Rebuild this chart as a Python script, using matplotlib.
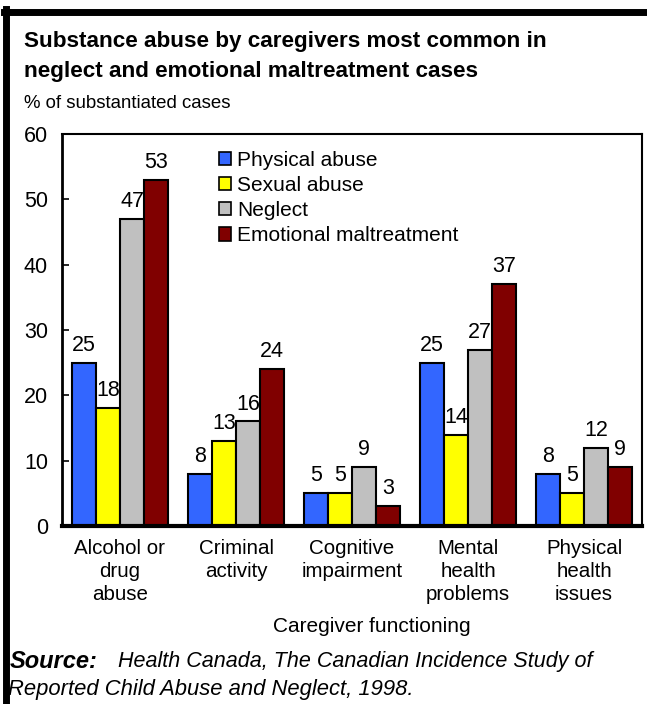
import matplotlib
matplotlib.use("Agg")
import matplotlib.pyplot as plt
from matplotlib.lines import Line2D
from matplotlib.patches import Patch
import numpy as np

plt.rcParams['font.family'] = ['Liberation Sans', 'DejaVu Sans']

categories = ["Alcohol or\ndrug\nabuse", "Criminal\nactivity", "Cognitive\nimpairment",
              "Mental\nhealth\nproblems", "Physical\nhealth\nissues"]
series_names = ["Physical abuse", "Sexual abuse", "Neglect", "Emotional maltreatment"]
physical = [25, 8, 5, 25, 8]
sexual = [18, 13, 5, 14, 5]
neglect = [47, 16, 9, 27, 12]
emotional = [53, 24, 3, 37, 9]
colors = ["#3366FF", "#FFFF00", "#C0C0C0", "#800000"]

fig = plt.figure(figsize=(6.47, 7.04), dpi=100)
ax = fig.add_axes([62/647, 1-526/704, 580/647, 392/704])

x = np.arange(len(categories))
w = 0.207
for i, vals in enumerate([physical, sexual, neglect, emotional]):
    pos = x + (i - 1.5) * w
    ax.bar(pos, vals, width=w, color=colors[i], edgecolor="black", linewidth=1.5, zorder=2)
    for p, v in zip(pos, vals):
        ax.annotate(str(v), (p, v), xytext=(0, 5), textcoords="offset points",
                    ha="center", va="bottom", fontsize=15.5)

ax.set_xlim(-0.5, 4.5)
ax.set_ylim(0, 60)
ax.set_yticks(range(0, 61, 10))
ax.tick_params(axis="y", direction="in", length=5, width=1.2, labelsize=15.5, pad=10)
ax.tick_params(axis="x", length=0, labelsize=14.8, pad=9)
ax.set_xticks(x)
ax.set_xticklabels(categories, linespacing=1.28)
for lbl in ax.get_xticklabels():
    lbl.set_multialignment("center")
ax.spines["bottom"].set_linewidth(3)
ax.spines["left"].set_linewidth(2)
ax.spines["top"].set_linewidth(1.5)
ax.spines["right"].set_linewidth(1.5)

handles = [Patch(facecolor=c, edgecolor="black", linewidth=1.2) for c in colors]
ax.legend(handles, series_names, loc="upper left", bbox_to_anchor=(0.245, 0.995),
          frameon=False, fontsize=15, handlelength=0.6, handleheight=0.6,
          handletextpad=0.3, labelspacing=0.3, borderaxespad=0.3)

fig.text(372/647, 1-627/704, "Caregiver functioning", ha="center", va="center", fontsize=15)

fig.text(24/647, 1-42/704, "Substance abuse by caregivers most common in", fontsize=16.2,
         fontweight="bold", va="center")
fig.text(24/647, 1-72/704, "neglect and emotional maltreatment cases", fontsize=16.2,
         fontweight="bold", va="center")
fig.text(24/647, 1-103/704, "% of substantiated cases", fontsize=13.4, va="center")

fig.text(10/647, 1-661/704, "Source:", fontsize=17, fontweight="bold", style="italic", va="center")
fig.text(118/647, 1-661/704, "Health Canada, The Canadian Incidence Study of", fontsize=15.5,
         style="italic", va="center")
fig.text(8/647, 1-690/704, "Reported Child Abuse and Neglect, 1998.", fontsize=15.8,
         style="italic", va="center")

# frame
fig.add_artist(Line2D([6/647, 6/647], [0, 1-9/704], color="black", lw=5, transform=fig.transFigure))
fig.add_artist(Line2D([4/647, 1], [1-11.5/704, 1-11.5/704], color="black", lw=5, transform=fig.transFigure))

fig.savefig("out.png", dpi=100)
